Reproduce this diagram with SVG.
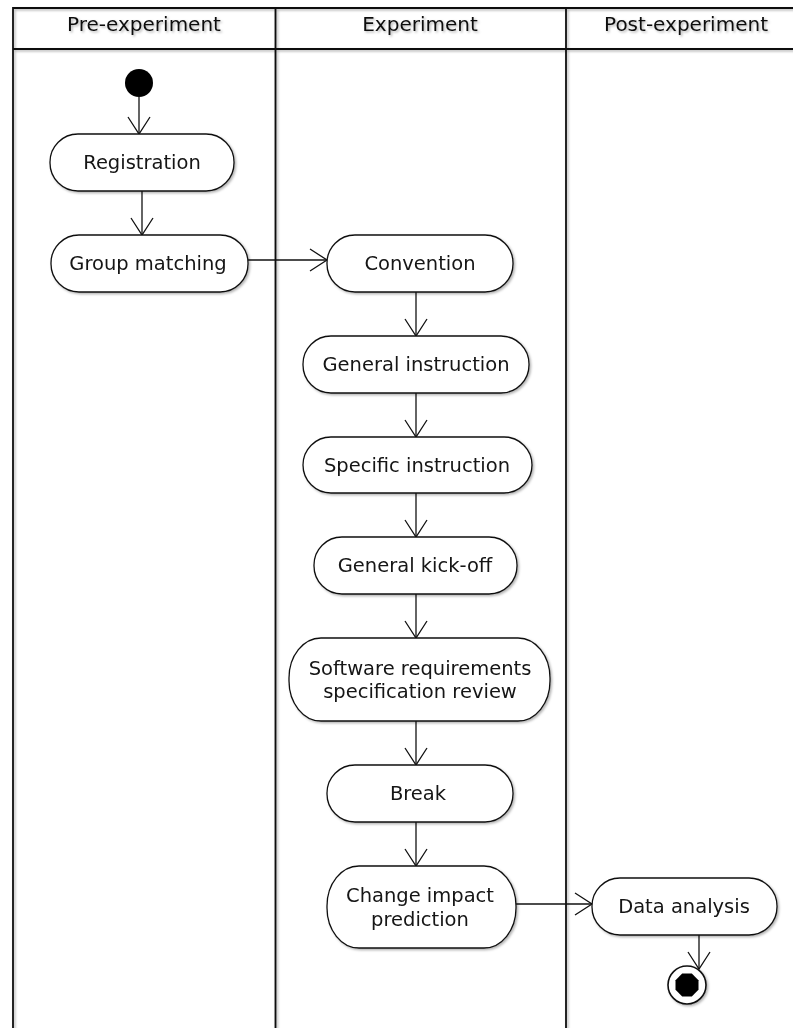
<svg xmlns="http://www.w3.org/2000/svg" width="793" height="1028" viewBox="0 0 793 1028">
  <style>
    .lane { stroke: #111; stroke-width: 1.8; fill: none; }
    .act { fill: #fff; stroke: #111; stroke-width: 1.3; }
    .lbl { font-family: "DejaVu Sans", Verdana, sans-serif; font-size: 19.5px; fill: #141414; text-anchor: middle; }
    .hdr { font-family: "DejaVu Sans", Verdana, sans-serif; font-size: 20px; fill: #111; text-anchor: middle; }
    .flow { stroke: #111; stroke-width: 1.3; fill: none; marker-end: url(#open); }
  </style>
  <defs>
    <filter id="shade" x="-10%" y="-10%" width="130%" height="130%">
      <feDropShadow dx="1.5" dy="1.5" stdDeviation="1" flood-color="#000" flood-opacity="0.3"/>
    </filter>
    <marker id="open" markerUnits="userSpaceOnUse" viewBox="-19 -13 21 26" refX="0" refY="0" markerWidth="21" markerHeight="26" orient="auto">
      <path d="M-17,-11 L0,0 L-17,11" fill="none" stroke="#111" stroke-width="1.3"/>
    </marker>
  </defs>

  <rect width="793" height="1028" fill="#fff"/>

  <!-- swimlane frame -->
  <g id="lanes" filter="url(#shade)">
    <path class="lane" d="M13,1040 V8 H820 M13,49 H820 M275.5,8 V1040 M566,8 V1040"/>
    <text class="hdr" x="144" y="31">Pre-experiment</text>
    <text class="hdr" x="420" y="31">Experiment</text>
    <text class="hdr" x="686" y="31">Post-experiment</text>
  </g>

  <!-- control flows -->
  <g id="connectors">
    <path class="flow" d="M139,97 V134"/>
    <path class="flow" d="M142,191 V235"/>
    <path class="flow" d="M248,260 H327"/>
    <path class="flow" d="M416,292 V336"/>
    <path class="flow" d="M416,393 V437"/>
    <path class="flow" d="M416,493 V537"/>
    <path class="flow" d="M416,594 V638"/>
    <path class="flow" d="M416,721 V765"/>
    <path class="flow" d="M416,822 V866"/>
    <path class="flow" d="M516,904 H592"/>
    <path class="flow" d="M699,935 V969"/>
  </g>

  <g id="start">
    <circle cx="139" cy="83" r="14" fill="#000"/>
  </g>

  <g id="registration" filter="url(#shade)">
    <rect class="act" x="50" y="134" width="184" height="57" rx="28" ry="28"/>
    <text class="lbl" x="142" y="169">Registration</text>
  </g>

  <g id="group-matching" filter="url(#shade)">
    <rect class="act" x="51" y="235" width="197" height="57" rx="28" ry="28"/>
    <text class="lbl" x="148" y="270">Group matching</text>
  </g>

  <g id="convention" filter="url(#shade)">
    <rect class="act" x="327" y="235" width="186" height="57" rx="28" ry="28"/>
    <text class="lbl" x="420" y="270">Convention</text>
  </g>

  <g id="general-instruction" filter="url(#shade)">
    <rect class="act" x="303" y="336" width="226" height="57" rx="28" ry="28"/>
    <text class="lbl" x="416" y="371">General instruction</text>
  </g>

  <g id="specific-instruction" filter="url(#shade)">
    <rect class="act" x="303" y="437" width="229" height="56" rx="28" ry="28"/>
    <text class="lbl" x="417" y="472">Specific instruction</text>
  </g>

  <g id="general-kick-off" filter="url(#shade)">
    <rect class="act" x="314" y="537" width="203" height="57" rx="28" ry="28"/>
    <text class="lbl" x="415" y="572">General kick-off</text>
  </g>

  <g id="srs-review" filter="url(#shade)">
    <rect class="act" x="289" y="638" width="261" height="83" rx="32" ry="40"/>
    <text class="lbl" x="420" y="675">Software requirements</text>
    <text class="lbl" x="420" y="698">specification review</text>
  </g>

  <g id="break" filter="url(#shade)">
    <rect class="act" x="327" y="765" width="186" height="57" rx="28" ry="28"/>
    <text class="lbl" x="418" y="800">Break</text>
  </g>

  <g id="change-impact-prediction" filter="url(#shade)">
    <rect class="act" x="327" y="866" width="189" height="82" rx="32" ry="40"/>
    <text class="lbl" x="420" y="902">Change impact</text>
    <text class="lbl" x="420" y="926">prediction</text>
  </g>

  <g id="data-analysis" filter="url(#shade)">
    <rect class="act" x="592" y="878" width="185" height="57" rx="28" ry="28"/>
    <text class="lbl" x="684" y="913">Data analysis</text>
  </g>

  <g id="end" filter="url(#shade)">
    <circle cx="687" cy="985" r="19" fill="#fff" stroke="#111" stroke-width="1.6"/>
    <polygon fill="#000" points="691.8,973.5 698.5,980.2 698.5,989.8 691.8,996.5 682.2,996.5 675.5,989.8 675.5,980.2 682.2,973.5"/>
  </g>
</svg>
